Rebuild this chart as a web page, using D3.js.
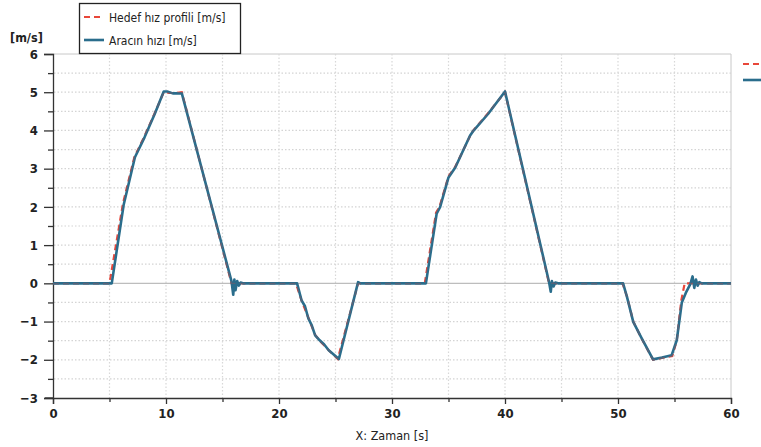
<!DOCTYPE html>
<html>
<head>
<meta charset="utf-8">
<script src="https://cdn.jsdelivr.net/npm/d3@7"></script>
<style>
  html, body { margin: 0; padding: 0; background: #fff; }
  svg { display: block; }
  text { font-family: "DejaVu Sans Condensed", "DejaVu Sans", sans-serif; }
</style>
</head>
<body>
<svg id="chart" width="761" height="447"></svg>
<script>
// ---- data ----
const targetTime  = [0, 5.0, 6.2, 7.2, 8.1, 9.0, 9.8, 10.3, 10.8, 11.4, 15.8, 21.5, 22.0, 22.6, 23.2, 23.6, 24.4, 25.2, 27.0, 32.9, 33.9, 34.2, 35.0, 35.6, 36.9, 37.2, 38.5, 40.0, 43.9, 50.4, 50.8, 51.35, 52.1, 53.1, 53.9, 54.8, 55.2, 55.6, 55.9, 60];
const targetSpeed = [0, 0, 2.1, 3.3, 3.85, 4.45, 5.0, 4.98, 4.98, 5.0, 0, 0, -0.45, -0.9, -1.35, -1.5, -1.75, -1.98, 0, 0, 1.85, 2.0, 2.8, 3.05, 3.85, 4.0, 4.45, 5.0, 0, 0, -0.35, -1.0, -1.45, -2.0, -1.95, -1.9, -1.5, -0.45, 0, 0];

const vehicleTime  = [0, 5.2, 6.25, 7.25, 8.1, 9.0, 9.8, 10.1, 10.6, 11.4, 15.8, 15.95, 16.05, 16.15, 16.3, 16.45, 16.6, 16.8, 21.6, 22.0, 22.3, 22.6, 22.9, 23.2, 23.6, 24.0, 24.4, 25.3, 27.0, 27.2, 33.0, 33.95, 34.25, 35.0, 35.6, 36.9, 37.2, 38.5, 40.0, 43.9, 44.05, 44.15, 44.3, 44.45, 44.7, 50.45, 50.8, 51.35, 52.1, 53.1, 53.9, 54.75, 55.2, 55.65, 56.0, 56.4, 56.6, 56.75, 56.9, 57.05, 57.2, 57.4, 60];
const vehicleSpeed = [0, 0, 2.05, 3.3, 3.82, 4.43, 5.02, 5.02, 4.97, 4.97, 0.05, -0.3, 0.1, -0.18, 0.06, -0.06, 0.02, 0, 0, -0.45, -0.6, -0.92, -1.1, -1.36, -1.49, -1.6, -1.75, -1.98, 0.03, 0, 0, 1.82, 1.99, 2.77, 3.03, 3.86, 3.99, 4.43, 5.02, 0.03, -0.22, 0.06, -0.08, 0.02, 0, 0, -0.36, -1.01, -1.44, -1.99, -1.94, -1.88, -1.49, -0.5, -0.25, -0.02, 0.18, -0.12, 0.1, -0.06, 0.03, 0, 0];

const xTicks = [0, 10, 20, 30, 40, 50, 60];
const yTicks = [-3, -2, -1, 0, 1, 2, 3, 4, 5, 6];
const seriesNames = ["Hedef hız profili [m/s]", "Aracın hızı [m/s]"];
const yUnit = "[m/s]";
const xTitle = "X: Zaman [s]";

// ---- layout ----
const svg = d3.select("#chart");
const L = 53, R = 731, T = 54, B = 398;
const x = d3.scaleLinear().domain([0, 60]).range([L, R]);
const y = d3.scaleLinear().domain([-3, 6]).range([B, T]);
const red = "#e8473a", teal = "#2a6d8c";

// plot frame (light)
svg.append("line").attr("x1", L).attr("x2", R).attr("y1", T).attr("y2", T).attr("stroke", "#c8c8c8");
svg.append("line").attr("x1", R).attr("x2", R).attr("y1", T).attr("y2", B).attr("stroke", "#c8c8c8");

// grid
const hGrid = d3.range(-2.5, 6, 0.5).filter(v => Math.abs(v) > 1e-9);
svg.append("g").selectAll("line").data(hGrid).join("line")
  .attr("x1", L + 1).attr("x2", R).attr("y1", d => y(d)).attr("y2", d => y(d))
  .attr("stroke", "#d4d4d4").attr("stroke-width", 1.2).attr("stroke-dasharray", "1.5,2");
const vGrid = d3.range(5, 60, 5);
svg.append("g").selectAll("line").data(vGrid).join("line")
  .attr("x1", d => x(d)).attr("x2", d => x(d)).attr("y1", T).attr("y2", B)
  .attr("stroke", "#d8d8d8").attr("stroke-width", 1.2).attr("stroke-dasharray", "1.5,2");
// zero line
svg.append("line").attr("x1", L).attr("x2", R).attr("y1", y(0)).attr("y2", y(0))
  .attr("stroke", "#bdbdbd").attr("stroke-width", 1.2);

// axes
const yAxis = svg.append("g").attr("transform", `translate(${L},0)`)
  .call(d3.axisLeft(y).tickValues(yTicks).tickSize(9).tickPadding(6).tickFormat(d3.format("d")));
svg.append("g").attr("transform", `translate(${L},0)`)
  .call(d3.axisLeft(y).tickValues(d3.range(-2.5, 6, 1)).tickSize(5).tickFormat(""))
  .call(g => g.select(".domain").remove());
const xAxis = svg.append("g").attr("transform", `translate(0,${B})`)
  .call(d3.axisBottom(x).tickValues(xTicks).tickSize(6).tickPadding(5).tickFormat(d3.format("d")));
svg.append("g").attr("transform", `translate(0,${B})`)
  .call(d3.axisBottom(x).tickValues(d3.range(5, 60, 10)).tickSize(4).tickFormat(""))
  .call(g => g.select(".domain").remove());
[yAxis, xAxis].forEach(g => {
  g.select(".domain").attr("stroke", "#333").attr("stroke-width", 1.3);
  g.selectAll(".tick text").attr("font-size", 13).attr("font-weight", "bold").attr("fill", "#222")
    .style("font-family", '"DejaVu Sans Condensed", sans-serif');
});
svg.selectAll("g .tick line").attr("stroke", "#333").attr("stroke-width", 1.3);
svg.append("line").attr("x1", L - 8).attr("x2", L).attr("y1", B).attr("y2", B).attr("stroke", "#333").attr("stroke-width", 1.3);

// lines
const line = d3.line().x(d => x(d[0])).y(d => y(d[1]));
const targetData = targetTime.map((t, i) => [t, targetSpeed[i]]);
const vehicleData = vehicleTime.map((t, i) => [t, vehicleSpeed[i]]);
svg.append("path").datum(targetData).attr("d", line).attr("fill", "none")
  .attr("stroke", red).attr("stroke-width", 2.2).attr("stroke-dasharray", "6,4");
svg.append("path").datum(vehicleData).attr("d", line).attr("fill", "none")
  .attr("stroke", teal).attr("stroke-width", 2.6).attr("stroke-linejoin", "round");
svg.append("path").datum(targetData).attr("d", line).attr("fill", "none")
  .attr("stroke", red).attr("stroke-width", 1).attr("stroke-dasharray", "6,4").attr("opacity", 0.3);

// legend
const lg = svg.append("g");
lg.append("rect").attr("x", 79.5).attr("y", 3.5).attr("width", 161).attr("height", 50)
  .attr("fill", "#fff").attr("stroke", "#222").attr("stroke-width", 1.3);
lg.append("line").attr("x1", 84).attr("x2", 104).attr("y1", 17).attr("y2", 17)
  .attr("stroke", red).attr("stroke-width", 2.2).attr("stroke-dasharray", "6,4");
lg.append("line").attr("x1", 84).attr("x2", 104).attr("y1", 40).attr("y2", 40)
  .attr("stroke", teal).attr("stroke-width", 2.6);
lg.append("text").attr("x", 109).attr("y", 21.5).attr("font-size", 12).attr("fill", "#222").text(seriesNames[0]);
lg.append("text").attr("x", 109).attr("y", 44.5).attr("font-size", 12).attr("fill", "#222").text(seriesNames[1]);

// clipped duplicate legend at right edge
svg.append("line").attr("x1", 743).attr("x2", 765).attr("y1", 64).attr("y2", 64)
  .attr("stroke", red).attr("stroke-width", 2.2).attr("stroke-dasharray", "6,4");
svg.append("line").attr("x1", 743).attr("x2", 765).attr("y1", 80).attr("y2", 80)
  .attr("stroke", teal).attr("stroke-width", 2.6);

// unit label and x title
svg.append("text").attr("x", 10).attr("y", 42).attr("font-size", 12.5).attr("font-weight", "bold").attr("fill", "#222").text(yUnit);
svg.append("text").attr("x", (L + R) / 2).attr("y", 440).attr("text-anchor", "middle")
  .attr("font-size", 12.5).attr("fill", "#222").text(xTitle);
</script>
</body>
</html>
